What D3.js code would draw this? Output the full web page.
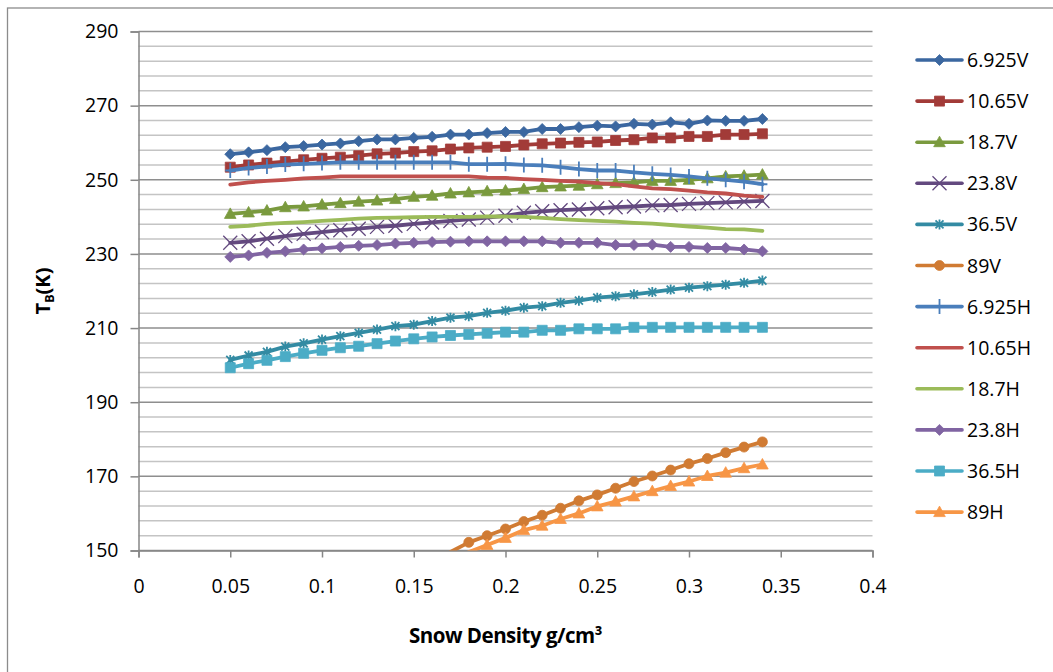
<!DOCTYPE html>
<html>
<head>
<meta charset="utf-8">
<script src="https://cdn.jsdelivr.net/npm/d3@7/dist/d3.min.js"></script>
<style>
  body { margin: 0; background: #fff; }
  text { font-family: "Open Sans", sans-serif; fill: #000; }
</style>
</head>
<body>
<script>
'use strict';

// snow density g/cm3
var density = [0.05, 0.06, 0.07, 0.08, 0.09, 0.10, 0.11, 0.12, 0.13, 0.14,
               0.15, 0.16, 0.17, 0.18, 0.19, 0.20, 0.21, 0.22, 0.23, 0.24,
               0.25, 0.26, 0.27, 0.28, 0.29, 0.30, 0.31, 0.32, 0.33, 0.34];

var seriesNames = ["6.925V", "10.65V", "18.7V", "23.8V", "36.5V", "89V",
                   "6.925H", "10.65H", "18.7H", "23.8H", "36.5H", "89H"];

var tb6925V = [256.9, 257.4, 258.0, 258.8, 259.1, 259.5, 259.8, 260.4, 260.9, 260.9,
               261.3, 261.6, 262.2, 262.2, 262.6, 262.9, 262.9, 263.7, 263.7, 264.2,
               264.6, 264.4, 265.1, 264.9, 265.5, 265.1, 266.0, 265.9, 265.9, 266.4];
var tb1065V = [253.4, 254.0, 254.5, 254.9, 255.4, 255.8, 256.1, 256.5, 257.0, 257.2,
               257.6, 257.8, 258.3, 258.6, 258.8, 259.0, 259.4, 259.7, 259.9, 260.1,
               260.2, 260.6, 260.8, 261.3, 261.3, 261.7, 261.7, 262.2, 262.2, 262.4];
var tb187V = [240.8, 241.2, 241.7, 242.6, 242.8, 243.3, 243.7, 244.1, 244.4, 244.8,
              245.4, 245.7, 246.3, 246.6, 246.9, 247.1, 247.5, 248.0, 248.2, 248.4,
              248.8, 249.1, 249.3, 249.7, 249.7, 250.0, 250.4, 250.9, 251.1, 251.4];
var tb238V = [233.0, 233.4, 234.1, 234.8, 235.4, 235.9, 236.4, 236.8, 237.3, 237.6,
              238.1, 238.5, 238.9, 239.3, 239.8, 240.3, 241.1, 241.5, 241.8, 242.0,
              242.3, 242.6, 242.8, 243.1, 243.2, 243.5, 243.7, 243.9, 244.1, 244.3];
var tb365V = [201.4, 202.6, 203.6, 205.0, 205.9, 206.9, 207.8, 208.7, 209.6, 210.5,
              210.9, 211.9, 212.8, 213.2, 214.1, 214.7, 215.5, 215.9, 216.8, 217.4,
              218.2, 218.6, 219.1, 219.7, 220.4, 220.9, 221.3, 221.7, 222.2, 222.8];
var tb89V = [null, null, null, null, null, null, null, null, null, null,
             null, null, 149.6, 152.2, 154.0, 155.8, 157.8, 159.5, 161.4, 163.4,
             165.0, 166.8, 168.6, 170.1, 171.7, 173.4, 174.8, 176.4, 177.9, 179.3];
var tb6925H = [252.5, 253.2, 253.6, 254.1, 254.3, 254.5, 254.7, 254.7, 254.7, 254.7,
               254.7, 254.7, 254.7, 254.2, 254.2, 254.3, 254.0, 253.9, 253.4, 252.9,
               252.5, 252.5, 252.0, 251.6, 251.3, 250.9, 250.4, 250.0, 249.5, 248.8];
var tb1065H = [248.7, 249.3, 249.7, 250.0, 250.4, 250.6, 250.9, 250.9, 250.9, 250.9,
               250.9, 250.9, 250.9, 250.9, 250.6, 250.5, 250.2, 250.0, 249.7, 249.5,
               249.1, 248.8, 248.2, 247.7, 247.5, 247.1, 246.6, 246.3, 245.7, 245.4];
var tb187H = [237.3, 237.6, 238.1, 238.4, 238.6, 238.9, 239.2, 239.5, 239.7, 239.8,
              239.9, 240.0, 240.0, 240.0, 240.1, 240.1, 240.0, 239.7, 239.4, 239.1,
              238.9, 238.7, 238.4, 238.2, 237.8, 237.4, 237.1, 236.7, 236.6, 236.2];
var tb238H = [229.2, 229.6, 230.3, 230.7, 231.2, 231.5, 231.9, 232.2, 232.4, 232.8,
              233.0, 233.2, 233.3, 233.4, 233.4, 233.4, 233.4, 233.4, 233.0, 233.0,
              233.0, 232.4, 232.4, 232.5, 231.9, 231.9, 231.6, 231.6, 231.2, 230.7];
var tb365H = [199.3, 200.4, 201.3, 202.3, 203.2, 204.0, 204.7, 205.1, 205.8, 206.5,
              207.1, 207.6, 208.0, 208.3, 208.6, 208.9, 208.9, 209.4, 209.4, 209.8,
              209.8, 209.8, 210.2, 210.2, 210.2, 210.2, 210.2, 210.2, 210.2, 210.2];
var tb89H = [null, null, null, null, null, null, null, null, null, null,
             null, null, null, 149.6, 151.5, 153.4, 155.5, 156.7, 158.5, 160.0,
             161.9, 163.2, 164.6, 166.0, 167.4, 168.6, 170.1, 171.0, 172.2, 173.2];

var xTicks = [0, 0.05, 0.1, 0.15, 0.2, 0.25, 0.3, 0.35, 0.4];
var yTicks = [150, 170, 190, 210, 230, 250, 270, 290];

var myChart = {};
myChart.width = 1053;
myChart.height = 672;
myChart.left = 138.5;
myChart.right = 872.5;
myChart.top = 31.5;
myChart.bottom = 550.5;

myChart.styles = [
    {color: "#3b67a0", marker: "diamond"},
    {color: "#a23b38", marker: "square"},
    {color: "#7a9a3e", marker: "triangle"},
    {color: "#63497f", marker: "x"},
    {color: "#338ba3", marker: "star"},
    {color: "#d07b33", marker: "circle"},
    {color: "#4a7ebb", marker: "plus"},
    {color: "#c0504d", marker: "none"},
    {color: "#9bbb59", marker: "none"},
    {color: "#8064a2", marker: "diamond"},
    {color: "#4bacc6", marker: "square"},
    {color: "#f79646", marker: "triangle"}
];

myChart.seriesValues = [tb6925V, tb1065V, tb187V, tb238V, tb365V, tb89V,
                        tb6925H, tb1065H, tb187H, tb238H, tb365H, tb89H];

myChart.createXScale = function(){
    return d3.scaleLinear().domain([0, 0.4]).range([myChart.left, myChart.right]);
}

myChart.createYScale = function(){
    return d3.scaleLinear().domain([150, 290]).range([myChart.bottom, myChart.top]);
}

myChart.markerPath = function(type){
    if (type === "diamond") return "M0,-5.5L5.5,0L0,5.5L-5.5,0Z";
    if (type === "square") return "M-5,-5H5V5H-5Z";
    if (type === "triangle") return "M0,-6L5.8,4.5H-5.8Z";
    if (type === "circle") return "M5,0A5,5 0 1,1 -5,0A5,5 0 1,1 5,0Z";
    if (type === "x") return "M-7,-7L7,7M-7,7L7,-7";
    if (type === "star") return "M-4,-4L4,4M-4,4L4,-4M0,-5V5";
    if (type === "plus") return "M0,-7.5V7.5M-5,0H5";
    return null;
}

myChart.appendMarker = function(node, type, color){
    var path = myChart.markerPath(type);
    if (!path) return;
    var open = (type === "x" || type === "star" || type === "plus");
    node.append("path")
        .attr("d", path)
        .attr("fill", open ? "none" : color)
        .attr("stroke", color)
        .attr("stroke-width", open ? (type === "x" ? 1.3 : 1.8) : 0.8)
        .attr("stroke-linejoin", "round");
}

myChart.appendSvg = function(domObj){
    var svgNode = d3.select(domObj)
        .append("svg")
        .attr("width", myChart.width)
        .attr("height", myChart.height);

    svgNode.append("rect")
        .attr("x", 0).attr("y", 0)
        .attr("width", myChart.width).attr("height", myChart.height)
        .attr("fill", "#fff");

    // chart frame (right and bottom edges fall outside the picture)
    svgNode.append("rect")
        .attr("x", 7.5).attr("y", 8)
        .attr("width", 1100).attr("height", 700)
        .attr("fill", "none")
        .attr("stroke", "#8c8c8c")
        .attr("stroke-width", 1.3);

    return svgNode;
}

myChart.appendGrid = function(svgNode){
    var yScale = myChart.createYScale();
    var minor = d3.range(150, 291, 4).filter(function(v){ return yTicks.indexOf(v) < 0; });

    svgNode.selectAll(".minor-grid")
        .data(minor)
        .enter()
            .append("line")
            .attr("x1", myChart.left).attr("x2", myChart.right)
            .attr("y1", function(d){ return yScale(d); })
            .attr("y2", function(d){ return yScale(d); })
            .attr("stroke", "#c4c4c4")
            .attr("stroke-width", 1.5);

    svgNode.selectAll(".major-grid")
        .data(yTicks)
        .enter()
            .append("line")
            .attr("x1", myChart.left).attr("x2", myChart.right)
            .attr("y1", function(d){ return yScale(d); })
            .attr("y2", function(d){ return yScale(d); })
            .attr("stroke", "#8e8e8e")
            .attr("stroke-width", 1.5);
}

myChart.appendAxes = function(svgNode){
    var xScale = myChart.createXScale();
    var yScale = myChart.createYScale();

    var xAxis = svgNode.append("g")
        .attr("transform", "translate(0," + myChart.bottom + ")")
        .call(d3.axisBottom(xScale).tickValues(xTicks).tickSize(7).tickPadding(22)
              .tickFormat(function(d){ return String(d); }));

    var yAxis = svgNode.append("g")
        .attr("transform", "translate(" + myChart.left + ",0)")
        .call(d3.axisLeft(yScale).tickValues(yTicks).tickSize(8).tickPadding(12)
              .tickFormat(d3.format("d")));

    [xAxis, yAxis].forEach(function(ax){
        ax.select(".domain").attr("stroke", "#868686").attr("stroke-width", 1.5);
        ax.selectAll(".tick line").attr("stroke", "#868686").attr("stroke-width", 1.5);
        ax.selectAll(".tick text")
            .attr("font-family", "'Open Sans', sans-serif")
            .attr("font-size", 19.5)
            .attr("fill", "#000");
    });

    svgNode.append("text")
        .attr("x", (myChart.left + myChart.right) / 2)
        .attr("y", 643)
        .attr("text-anchor", "middle")
        .attr("font-size", 20.5)
        .attr("font-weight", "bold")
        .attr("letter-spacing", -0.5)
        .text("Snow Density g/cm³");

    var yTitle = svgNode.append("text")
        .attr("transform", "translate(50," + ((myChart.top + myChart.bottom) / 2) + ") rotate(-90)")
        .attr("text-anchor", "middle")
        .attr("font-size", 20)
        .attr("font-weight", "bold");
    yTitle.append("tspan").text("T");
    yTitle.append("tspan").attr("font-size", 12.5).attr("dy", 4).text("B");
    yTitle.append("tspan").attr("dy", -4).text("(K)");
}

myChart.appendSeries = function(svgNode){
    var xScale = myChart.createXScale();
    var yScale = myChart.createYScale();

    svgNode.append("clipPath")
        .attr("id", "plot-clip")
        .append("rect")
        .attr("x", myChart.left).attr("y", myChart.top - 10)
        .attr("width", myChart.right - myChart.left)
        .attr("height", myChart.bottom - myChart.top + 10);

    var plot = svgNode.append("g").attr("clip-path", "url(#plot-clip)");

    var line = d3.line()
        .defined(function(d){ return d[1] !== null; })
        .x(function(d){ return xScale(d[0]); })
        .y(function(d){ return yScale(d[1]); });

    myChart.seriesValues.forEach(function(values, i){
        var style = myChart.styles[i];
        var points = density.map(function(x, k){ return [x, values[k]]; });

        plot.append("path")
            .datum(points)
            .attr("d", line)
            .attr("fill", "none")
            .attr("stroke", style.color)
            .attr("stroke-width", 3.8)
            .attr("stroke-linejoin", "round")
            .attr("stroke-linecap", "round");

        points.filter(function(d){ return d[1] !== null && d[1] >= 150; })
            .forEach(function(d){
                var g = plot.append("g")
                    .attr("transform", "translate(" + xScale(d[0]) + "," + yScale(d[1]) + ")");
                myChart.appendMarker(g, style.marker, style.color);
            });
    });
}

myChart.appendLegend = function(svgNode){
    var legend = svgNode.append("g");
    seriesNames.forEach(function(name, i){
        var style = myChart.styles[i];
        var y = 60 + i * 41.1;
        legend.append("line")
            .attr("x1", 917).attr("x2", 962)
            .attr("y1", y).attr("y2", y)
            .attr("stroke", style.color)
            .attr("stroke-width", 3.6)
            .attr("stroke-linecap", "round");
        var g = legend.append("g").attr("transform", "translate(939.5," + y + ")");
        myChart.appendMarker(g, style.marker, style.color);
        legend.append("text")
            .attr("x", 967)
            .attr("y", y + 7)
            .attr("font-size", 19.5)
            .text(name);
    });
}

myChart.run = function(){
    var svgNode = myChart.appendSvg("body");
    myChart.appendGrid(svgNode);
    myChart.appendAxes(svgNode);
    myChart.appendSeries(svgNode);
    myChart.appendLegend(svgNode);
}

window.onload = myChart.run;
</script>
</body>
</html>
